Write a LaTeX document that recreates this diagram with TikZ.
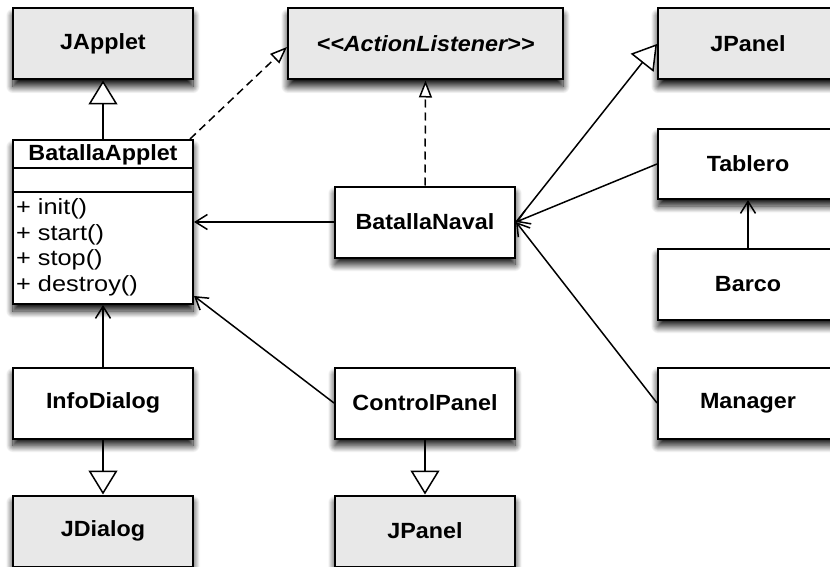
\documentclass[tikz,border=0pt]{standalone}
\usepackage{fontspec}
\setmainfont{Liberation Sans}[FakeStretch=1.06]
\usetikzlibrary{arrows.meta,calc,shadows.blur}

\definecolor{libgray}{HTML}{E8E8E8}

\tikzset{
  cls/.style={draw=black, line width=2pt, fill=white, rectangle,
    minimum width=180pt, minimum height=71pt, inner sep=0pt,
    font=\fontsize{22}{26}\selectfont\bfseries,
    blur shadow={shadow xshift=0pt, shadow yshift=-7pt, shadow blur radius=7pt,
      shadow blur steps=14, shadow opacity=95}},
  libcls/.style={cls, fill=libgray},
  gen/.style={line width=1.5pt, -{Triangle[fill=white, length=24pt, width=29pt]}},
  realize/.style={line width=1.5pt, dash pattern=on 8pt off 5pt,
    -{Triangle[fill=white, length=17pt, width=13pt]}},
  assoc/.style={line width=1.5pt, -{Straight Barb[length=12pt, width=15pt]}},
  member/.style={anchor=base west, inner sep=0pt,
    font=\fontsize{22}{26}\selectfont\addfontfeature{FakeStretch=1.15}},
}

\begin{document}
\begin{tikzpicture}[x=1pt, y=-1pt]
\useasboundingbox (0,0) rectangle (830,567);

% left column
\node[libcls] (japplet) at (103,44) {JApplet};
\node[cls, minimum height=164pt] (bapplet) at (103,222) {};
\node[cls] (info) at (103,403) {InfoDialog};
\node[libcls] (jdialog) at (103,531) {JDialog};

% class compartments of BatallaApplet
\draw[line width=1.5pt] (13,168) -- (193,168);
\draw[line width=1.5pt] (13,192) -- (193,192);
\node[inner sep=0pt, font=\fontsize{22}{26}\selectfont\bfseries] (baname) at (103,155) {BatallaApplet};
\node[member] (m1) at (16,214) {+ init()};
\node[member] (m2) at (16,240) {+ start()};
\node[member] (m3) at (16,265) {+ stop()};
\node[member] (m4) at (16,291) {+ destroy()};

% middle column
\node[libcls, minimum width=275pt, font=\fontsize{22}{26}\selectfont\bfseries\itshape] (alistener) at (425.5,44) {<{}<ActionListener>{}>};
\node[cls] (bnaval) at (425,222) {BatallaNaval};
\node[cls] (cpanel) at (425,403) {ControlPanel};
\node[libcls] (jpanelb) at (425,531) {JPanel};

% right column
\node[libcls] (jpanelt) at (748,44) {JPanel};
\node[cls, minimum height=70pt] (tablero) at (748,164) {Tablero};
\node[cls] (barco) at (748,284) {Barco};
\node[cls] (manager) at (748,403) {Manager};

% inheritance
\draw[gen] (bapplet.north) -- (japplet.south);
\draw[gen] (info.south) -- (jdialog.north);
\draw[gen] (cpanel.south) -- (jpanelb.north);
\draw[gen] (bnaval.east) -- (jpanelt.west);

% interface realization
\draw[realize] ($(bapplet.north east)+(-4,0)$) -- ($(alistener.west)+(0,3)$);
\draw[realize] (bnaval.north) -- (alistener.south);

% associations
\draw[assoc] (bnaval.west) -- (bapplet.east);
\draw[assoc] (info.north) -- (bapplet.south);
\draw[assoc] (cpanel.west) -- ($(bapplet.south east)+(0,-9)$);
\draw[assoc] (tablero.west) -- (bnaval.east);
\draw[assoc] (manager.west) -- (bnaval.east);
\draw[assoc] (barco.north) -- (tablero.south);
\end{tikzpicture}
\end{document}
